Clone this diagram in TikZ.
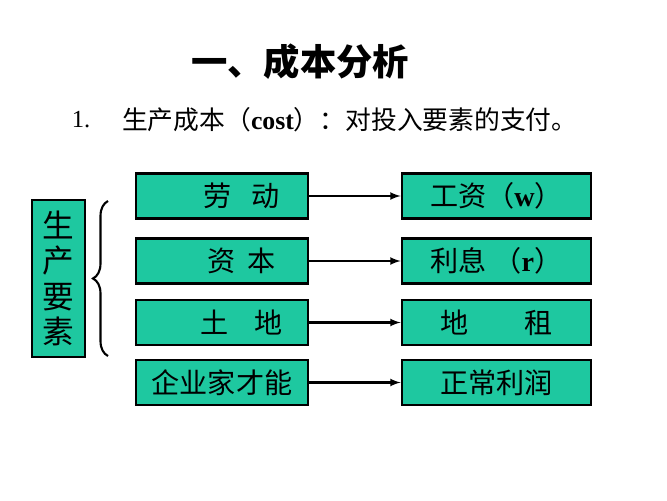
\documentclass[tikz,border=0pt]{standalone}
\usepackage{fontspec}
\setmainfont{Noto Sans CJK SC}
\newfontfamily\latin{Liberation Serif}
\usetikzlibrary{arrows,positioning,decorations.pathreplacing}
\definecolor{boxgreen}{RGB}{30,200,160}

\begin{document}
\begin{tikzpicture}[x=0.03cm, y=-0.03cm, >=latex,
  factor node/.style={rectangle,draw,line width=2.4pt,fill=boxgreen,minimum width=5.16cm,minimum height=1.35cm,inner sep=0pt,font=\fontsize{24}{28}\selectfont},
  pay node/.style={factor node,minimum width=5.67cm}]
\useasboundingbox (0,0) rectangle (667,500);
\node[font=\fontsize{31}{36}\selectfont\bfseries] (title) at (300,62) {一、成本分析};
\node[font=\fontsize{21}{25}\selectfont\latin] (num) at (81,120) {1.};
\node[anchor=west,font=\fontsize{22}{26}\selectfont] (def) at (118,120) {生产成本（{\latin\bfseries cost}）：对投入要素的支付。};
\begin{scope}
\node[factor node,minimum width=1.59cm,minimum height=4.71cm,align=center,font=\fontsize{27}{30}\selectfont] (yaosu) at (58.5,278.5) {生\\产\\要\\素};
\node[factor node] (labor) at (222,196) {\hspace{1.4em}劳\hspace{0.7em}动};
\node[factor node] (capital) at (222,261) {\hspace{1.4em}资\hspace{0.4em}本};
\node[factor node] (land) at (222,322.5) {\hspace{1.4em}土\hspace{0.9em}地};
\node[factor node] (entre) at (222,382.5) {企业家才能};
\node[pay node] (wage) at (496.5,196) {工资（{\latin\bfseries w}）};
\node[pay node] (interest) at (496.5,261) {利息 （{\latin\bfseries r}）};
\node[pay node] (rent) at (496.5,322.5) {地\hspace{2em}租};
\node[pay node] (profit) at (496.5,382.5) {正常利润};
\end{scope}
\begin{scope}[every edge/.style={draw,line width=2pt}]
\draw[->] (labor) edge (wage);
\draw[->] (capital) edge (interest);
\draw[->] (land) edge (rent);
\draw[->] (entre) edge (profit);
\end{scope}
\draw[line width=1.8pt,decoration={brace,amplitude=0.45cm},decorate] (108,356) -- (108,201);
\end{tikzpicture}
\end{document}
